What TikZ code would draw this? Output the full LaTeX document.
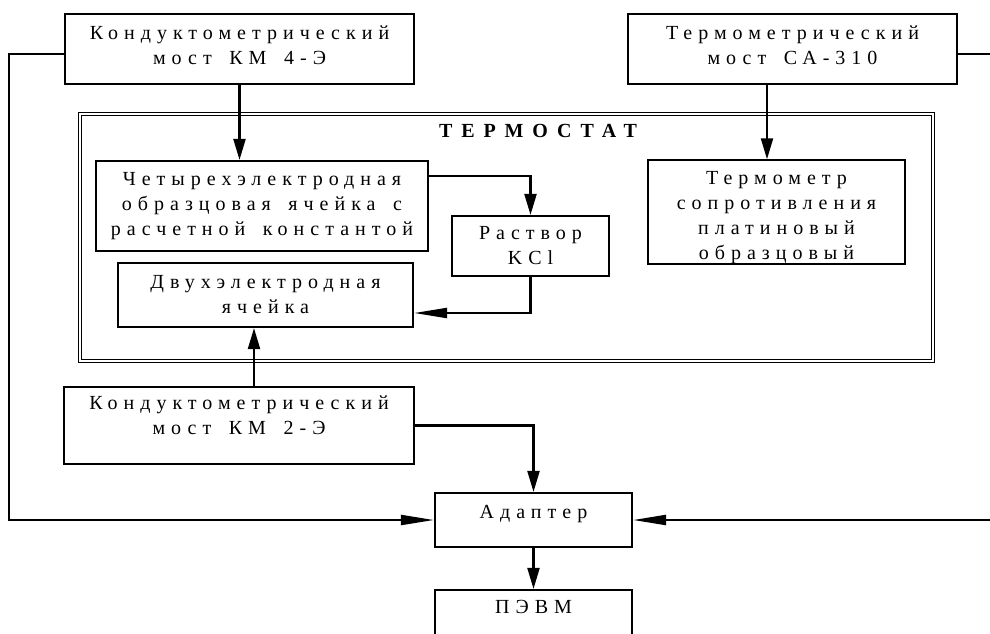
\documentclass[tikz,border=0pt]{standalone}
\usepackage{fontspec}
\setmainfont{Liberation Serif}
\newfontfamily\spaced[LetterSpace=30,WordSpace=1.6]{Liberation Serif}
\newfontfamily\spacedtitle[LetterSpace=45]{Liberation Serif}
\usetikzlibrary{arrows.meta,calc,positioning}

\begin{document}
\begin{tikzpicture}[x=1pt,y=-1pt,
    box/.style={draw, line width=2.2pt, align=center, inner sep=0pt,
        font=\spaced\fontsize{20}{25}\selectfont},
    wire/.style={line width=2.2pt},
    varr/.style={wire, -{Triangle[length=21pt,width=12pt]}},
    harr/.style={wire, -{Triangle[length=33pt,width=10pt]}}]
    \useasboundingbox (0,0) rectangle (990,633);
    %Frame
    \draw[line width=1.3pt, double, double distance=2pt] (80,114) rectangle (933,361);
    \node[font=\spacedtitle\bfseries\fontsize{20}{22}\selectfont] (title) at (538,131) {ТЕРМОСТАТ};
    %Boxes
    \node[box, minimum width=349, minimum height=70, text depth=7pt] (km4) at (239.5,49)
        {Кондуктометрический\\мост КМ 4-Э};
    \node[box, minimum width=329, minimum height=70, text depth=7pt] (ca) at (792.5,49)
        {Термометрический\\мост СА-310};
    \node[box, minimum width=332, minimum height=90] (four) at (262,206)
        {Четырехэлектродная\\образцовая ячейка с\\расчетной константой};
    \node[box, minimum width=157, minimum height=60] (kcl) at (530.5,246)
        {Раствор\\KCl};
    \node[box, minimum width=295, minimum height=64] (dvukh) at (265.5,295)
        {Двухэлектродная\\ячейка};
    \node[box, minimum width=257, minimum height=102, text height=99pt] (termo) at (776.5,212)
        {Термометр\\сопротивления\\платиновый\\образцовый};
    \node[box, minimum width=350, minimum height=77, text depth=20pt] (km2) at (239,425.5)
        {Кондуктометрический\\мост КМ 2-Э};
    \node[box, minimum width=197, minimum height=54, text depth=17pt] (adapter) at (533.5,520)
        {Адаптер};
    \node[box, minimum width=197, minimum height=54, text depth=20pt] (pevm) at (533.5,617)
        {ПЭВМ};
    %Routing points
    \coordinate (tx) at (767,0);
    \coordinate (kx) at (254,0);
    \coordinate (fy) at (0,176);
    \coordinate (dy) at (0,313);
    \coordinate (lw) at (9,54);
    \coordinate (rw) at (1000,54);
    %Arrows
    \draw[varr] (km4.south) -- (km4.south |- four.north);
    \draw[varr] (ca.south -| tx) -- (termo.north -| tx);
    \draw[varr] (four.east |- fy) -| (kcl.north);
    \draw[harr] (kcl.south) |- (dvukh.east |- dy);
    \draw[varr] (km2.north -| kx) -- (dvukh.south -| kx);
    \draw[varr] (km2.east) -| (adapter.north);
    \draw[harr] (km4.west |- lw) -- (lw) |- (adapter.west);
    \draw[harr] (ca.east |- rw) -- (rw) |- (adapter.east);
    \draw[varr] (adapter.south) -- (pevm.north);
\end{tikzpicture}
\end{document}
